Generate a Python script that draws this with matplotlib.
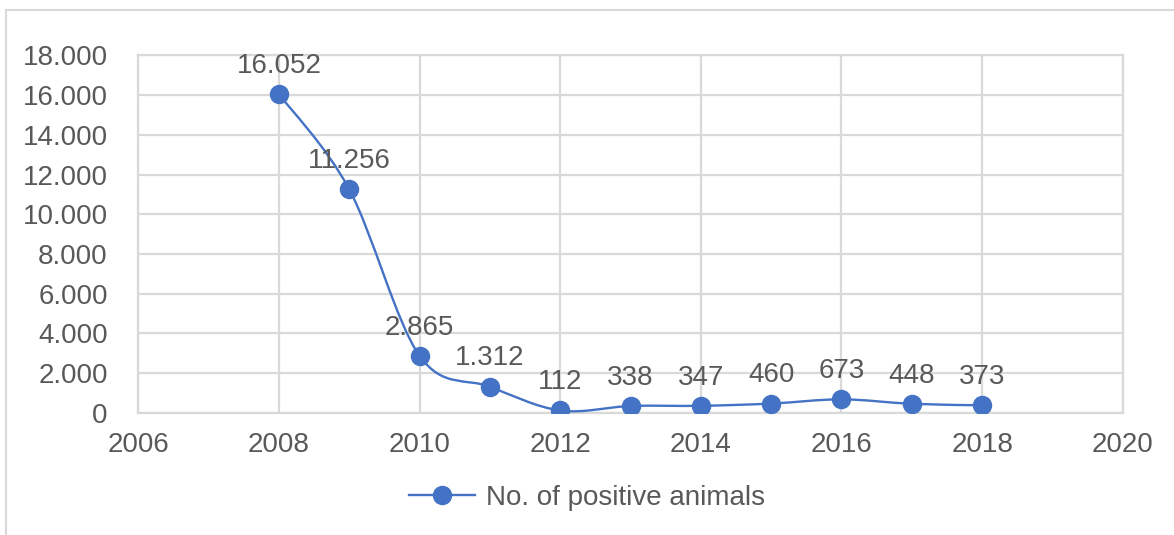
import matplotlib.pyplot as plt
from matplotlib.path import Path
from matplotlib.patches import PathPatch
from matplotlib.lines import Line2D
from matplotlib.ticker import FuncFormatter

# yearly counts
years = [2008, 2009, 2010, 2011, 2012, 2013, 2014, 2015, 2016, 2017, 2018]
positives = [16052, 11256, 2865, 1312, 112, 338, 347, 460, 673, 448, 373]
series_name = "No. of positive animals"

blue = "#4472C4"
grid_c = "#D9D9D9"
text_c = "#595959"
fs = 20

plt.rcParams['font.family'] = ['Liberation Sans', 'DejaVu Sans']


def dotted(v):
    return f"{int(v):,}".replace(",", ".")


fig = plt.figure(figsize=(11.74, 5.35), dpi=100)
ax = fig.add_axes([138.3 / 1174, 1 - 412.7 / 535, (1122.7 - 138.3) / 1174, (412.7 - 55.5) / 535])

# smoothed line: cubic bezier segments through the points
n = len(years)
verts = [(years[0], positives[0])]
codes = [Path.MOVETO]
for i in range(n - 1):
    p0 = (years[max(i - 1, 0)], positives[max(i - 1, 0)])
    p1 = (years[i], positives[i])
    p2 = (years[i + 1], positives[i + 1])
    p3 = (years[min(i + 2, n - 1)], positives[min(i + 2, n - 1)])
    c1 = (p1[0] + (p2[0] - p0[0]) / 6, p1[1] + (p2[1] - p0[1]) / 6)
    c2 = (p2[0] - (p3[0] - p1[0]) / 6, p2[1] - (p3[1] - p1[1]) / 6)
    verts += [c1, c2, p2]
    codes += [Path.CURVE4] * 3
ax.add_patch(PathPatch(Path(verts, codes), fill=False, edgecolor=blue, lw=1.7, zorder=3))
ax.plot(years, positives, ls='none', marker='o', ms=13, color=blue, zorder=4)

for x, y in zip(years, positives):
    ax.annotate(dotted(y), (x, y), xytext=(0, 11), textcoords='offset points',
                ha='center', va='bottom', fontsize=fs, color=text_c, zorder=5)

ax.set_xlim(2006, 2020)
ax.set_ylim(0, 18000)
ax.set_xticks(range(2006, 2021, 2))
ax.set_yticks(range(0, 18001, 2000))
ax.yaxis.set_major_formatter(FuncFormatter(lambda v, p: dotted(v)))
ax.tick_params(length=0, labelsize=fs, colors=text_c)
ax.tick_params(axis='y', pad=22)
ax.tick_params(axis='x', pad=14)
ax.grid(True, color=grid_c, lw=1.6)
ax.set_axisbelow(True)
for s in ax.spines.values():
    s.set_color(grid_c)
    s.set_linewidth(1.6)

handle = Line2D([], [], color=blue, lw=1.7, marker='o', ms=13)
fig.legend([handle], [series_name], loc='center', bbox_to_anchor=(0.5, 1 - 498 / 535),
           frameon=False, fontsize=fs, labelcolor=text_c, handlelength=2.4, handletextpad=0.4)

# outer chart frame (top and left edges)
fig.add_artist(Line2D([6 / 1174, 1], [1 - 10 / 535, 1 - 10 / 535], color=grid_c, lw=1.5, transform=fig.transFigure))
fig.add_artist(Line2D([6 / 1174, 6 / 1174], [0, 1 - 10 / 535], color=grid_c, lw=1.5, transform=fig.transFigure))

fig.savefig("out.png", dpi=100)
